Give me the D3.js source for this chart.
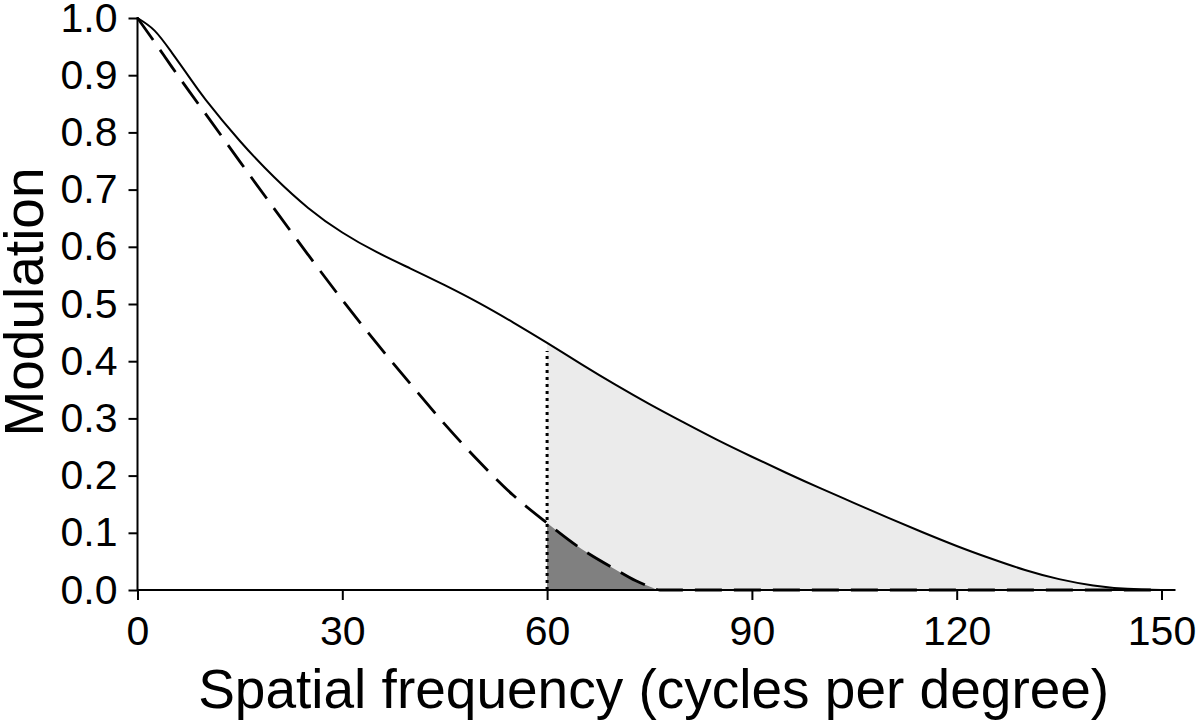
<!DOCTYPE html>
<html>
<head>
<meta charset="utf-8">
<script src="https://cdn.jsdelivr.net/npm/d3@7"></script>
<style>
  html, body { margin: 0; padding: 0; background: #fff; }
  svg { display: block; }
  text { font-family: "Liberation Sans", Arial, Helvetica, sans-serif; fill: #000; }
</style>
</head>
<body>
<svg id="chart" width="1200" height="722"></svg>
<script>
// Solid curve: spatial frequency (cycles per degree) and modulation
const solidFreq = [0, 2.5, 5, 7.5, 10, 15, 20, 25, 30, 35, 40, 45, 50, 55, 60, 65, 70, 75, 80, 85, 90, 95, 100, 105, 110, 115, 120, 125, 130, 135, 140, 145, 150];
const solidValues = [1.0, 0.978, 0.94, 0.898, 0.857, 0.785, 0.722, 0.668, 0.625, 0.591, 0.562, 0.533, 0.502, 0.468, 0.432, 0.395, 0.359, 0.325, 0.293, 0.262, 0.233, 0.205, 0.178, 0.152, 0.126, 0.101, 0.077, 0.055, 0.035, 0.019, 0.008, 0.002, 0.0];
// Dashed curve: spatial frequency and modulation
const dashedFreq = [0, 2.5, 5, 7.5, 10, 15, 20, 25, 30, 35, 40, 45, 50, 55, 60, 65, 70, 73, 75, 76.5, 90, 120, 150];
const dashedValues = [1.0, 0.958, 0.915, 0.873, 0.832, 0.749, 0.667, 0.586, 0.507, 0.432, 0.36, 0.29, 0.225, 0.166, 0.117, 0.072, 0.036, 0.016, 0.006, 0.0, 0, 0, 0];
const xTicks = [0, 30, 60, 90, 120, 150];
const yTicks = [0, 0.1, 0.2, 0.3, 0.4, 0.5, 0.6, 0.7, 0.8, 0.9, 1.0];
const cutoff = 60;
const xTitle = "Spatial frequency (cycles per degree)";
const yTitle = "Modulation";

const svg = d3.select("#chart");
const x = d3.scaleLinear().domain([0, 150]).range([137.5, 1161.5]);
const y = d3.scaleLinear().domain([0, 1]).range([590, 18]);

const solid = solidFreq.map((f, i) => ({ f, m: solidValues[i] }));
const dashed = dashedFreq.map((f, i) => ({ f, m: dashedValues[i] }));

const solidCurve = d3.curveNatural;
const dashedCurve = d3.curveMonotoneX;
const lineS = d3.line().x(d => x(d.f)).y(d => y(d.m)).curve(solidCurve);
const lineD = d3.line().x(d => x(d.f)).y(d => y(d.m)).curve(dashedCurve);
const areaS = d3.area().x(d => x(d.f)).y0(y(0)).y1(d => y(d.m)).curve(solidCurve);
const areaD = d3.area().x(d => x(d.f)).y0(y(0)).y1(d => y(d.m)).curve(dashedCurve);

svg.append("clipPath").attr("id", "rightOfCutoff")
  .append("rect")
  .attr("x", x(cutoff)).attr("y", 0)
  .attr("width", x(150) - x(cutoff) + 20).attr("height", y(0));

// light shaded area under solid curve beyond cutoff
svg.append("path").datum(solid)
  .attr("d", areaS).attr("fill", "#ebebeb")
  .attr("clip-path", "url(#rightOfCutoff)");
// dark shaded area under dashed curve beyond cutoff
svg.append("path").datum(dashed)
  .attr("d", areaD).attr("fill", "#808080")
  .attr("clip-path", "url(#rightOfCutoff)");

// axes
const axisStroke = 2;
const xAxis = d3.axisBottom(x).tickValues(xTicks).tickSize(10).tickPadding(16).tickFormat(d3.format("d"));
const gx = svg.append("g").attr("transform", `translate(0,${y(0)})`).call(xAxis);
gx.select(".domain").remove();
gx.append("line").attr("x1", x(0)).attr("x2", x(150) + 14).attr("y1", 0).attr("y2", 0)
  .attr("stroke", "#000").attr("stroke-width", axisStroke);
gx.selectAll(".tick line").attr("stroke", "#000").attr("stroke-width", axisStroke);
gx.selectAll(".tick text").attr("font-size", 41).attr("font-family", "Liberation Sans, Arial, sans-serif");

const yAxis = d3.axisLeft(y).tickValues(yTicks).tickSize(9).tickPadding(11).tickFormat(d3.format(".1f"));
const gy = svg.append("g").attr("transform", `translate(${x(0)},0)`).call(yAxis);
gy.select(".domain").remove();
gy.append("line").attr("x1", 0).attr("x2", 0).attr("y1", y(1) - 1).attr("y2", y(0))
  .attr("stroke", "#000").attr("stroke-width", axisStroke);
gy.selectAll(".tick line").attr("stroke", "#000").attr("stroke-width", axisStroke);
gy.selectAll(".tick text").attr("font-size", 41).attr("font-family", "Liberation Sans, Arial, sans-serif");

// dotted cutoff line
const solidAtCutoff = solidValues[solidFreq.indexOf(cutoff)];
svg.append("line")
  .attr("x1", x(cutoff)).attr("x2", x(cutoff))
  .attr("y1", y(0)).attr("y2", y(solidAtCutoff - 0.014))
  .attr("stroke", "#000").attr("stroke-width", 3)
  .attr("stroke-dasharray", "3,4");

// curves
svg.append("path").datum(dashed).attr("d", lineD)
  .attr("fill", "none").attr("stroke", "#000").attr("stroke-width", 2.8)
  .attr("stroke-dasharray", "27,12");
svg.append("path").datum(solid).attr("d", lineS)
  .attr("fill", "none").attr("stroke", "#000").attr("stroke-width", 2);

// axis titles
svg.append("text").attr("x", 653.7).attr("y", 708)
  .attr("text-anchor", "middle").attr("font-size", 55).text(xTitle);
svg.append("text").attr("transform", `translate(42.5,302) rotate(-90)`)
  .attr("text-anchor", "middle").attr("font-size", 55).text(yTitle);
</script>
</body>
</html>
